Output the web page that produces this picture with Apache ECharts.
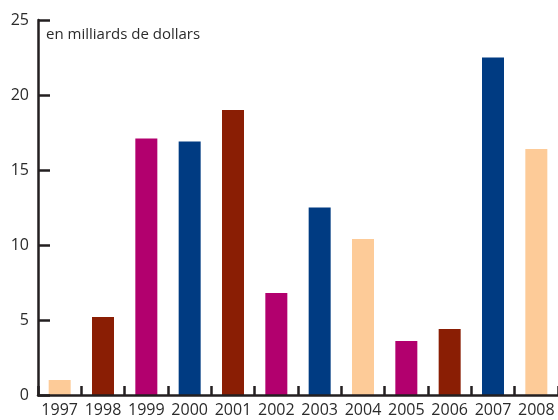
<!DOCTYPE html>
<html>
<head>
<meta charset="utf-8">
<script src="https://cdn.jsdelivr.net/npm/echarts@6/dist/echarts.min.js"></script>
<style>
  html, body { margin: 0; padding: 0; background: #fff; }
  #chart { width: 558px; height: 420px; }
</style>
</head>
<body>
<div id="chart"></div>
<script>
const years = ["1997", "1998", "1999", "2000", "2001", "2002", "2003", "2004", "2005", "2006", "2007", "2008"];
const values = [1.0, 5.2, 17.1, 16.9, 19.0, 6.8, 12.5, 10.4, 3.6, 4.4, 22.5, 16.4];
const barColors = ["#fdcb98", "#8a1e04", "#b2006e", "#003b82", "#8a1e04", "#b2006e", "#003b82", "#fdcb98", "#b2006e", "#8a1e04", "#003b82", "#fdcb98"];
const unitLabel = "en milliards de dollars";

const axisColor = "#231f20";
const textColor = "#2b2b2b";
const font = "'Open Sans', 'Noto Sans', sans-serif";

const chart = echarts.init(document.getElementById("chart"));
chart.setOption({
  animation: false,
  grid: { left: 38, right: -6, top: 20, bottom: 25, containLabel: false },
  graphic: [
    {
      type: "text",
      left: 46,
      top: 27,
      z: 10,
      style: { text: unitLabel, fill: textColor, font: "15px " + font },
    },
  ],
  xAxis: {
    type: "category",
    data: years,
    z: 5,
    axisLine: { lineStyle: { color: axisColor, width: 2.5 } },
    axisTick: { show: true, inside: true, length: 9, interval: 0, lineStyle: { color: axisColor, width: 2.5 } },
    axisLabel: { color: textColor, fontSize: 16, fontFamily: font, margin: 7, interval: 0 },
  },
  yAxis: {
    type: "value",
    min: 0,
    max: 25,
    interval: 5,
    z: 5,
    axisLine: { show: true, lineStyle: { color: axisColor, width: 2.5 } },
    axisTick: { show: true, inside: true, length: 12, lineStyle: { color: axisColor, width: 2.5 } },
    splitLine: { show: false },
    axisLabel: { color: textColor, fontSize: 16, fontFamily: font, margin: 9 },
  },
  series: [
    {
      type: "bar",
      barWidth: 22,
      data: values.map((v, i) => ({ value: v, itemStyle: { color: barColors[i] } })),
    },
  ],
});
</script>
</body>
</html>
